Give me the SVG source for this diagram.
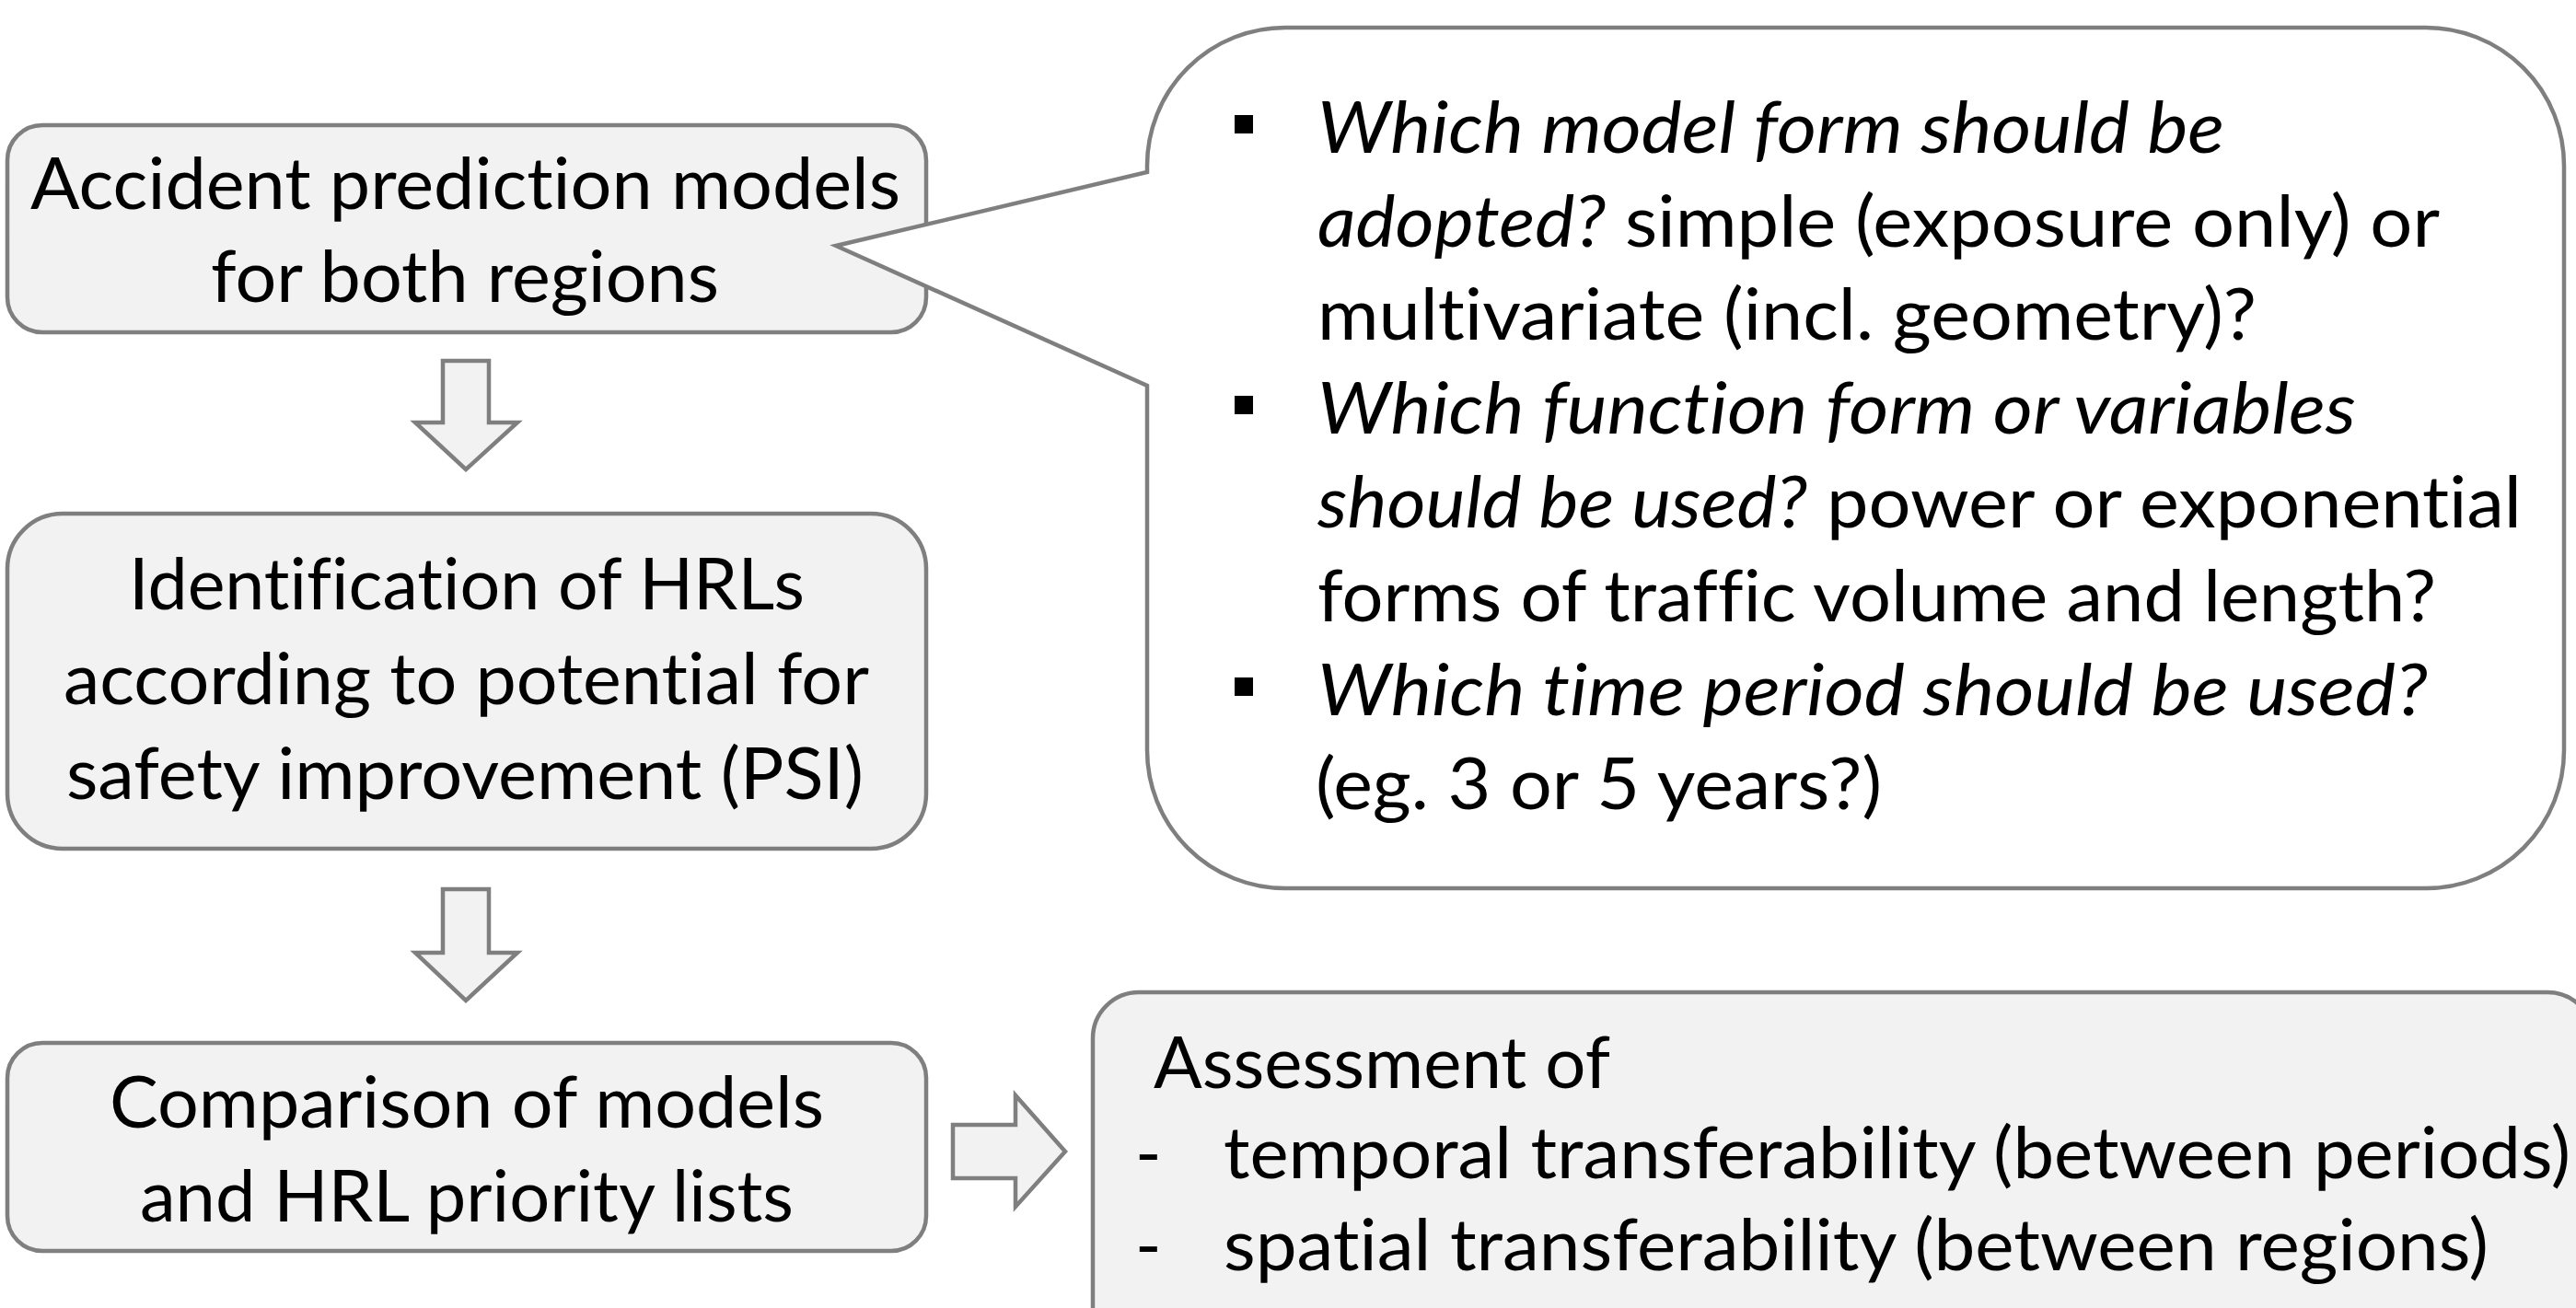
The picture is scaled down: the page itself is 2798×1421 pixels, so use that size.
<svg xmlns="http://www.w3.org/2000/svg" width="2798" height="1421" viewBox="0 0 2798 1421">
<style>
  .box { fill: #f2f2f2; stroke: #7f7f7f; stroke-width: 4.5; }
  .callout { fill: #ffffff; stroke: #7f7f7f; stroke-width: 4.5; stroke-linejoin: miter; }
  .arrow { fill: #f2f2f2; stroke: #7f7f7f; stroke-width: 4.5; stroke-linejoin: miter; }
  .t { font-family: Lato, "Liberation Sans", sans-serif; font-size: 77px; fill: #000000; font-variant-ligatures: none; font-feature-settings: "liga" 0, "clig" 0; }
  .i { font-style: italic; }
  .bullet { fill: #000000; }
</style>
<rect width="2798" height="1421" fill="#ffffff"/>

<g id="connectors">
  <path class="arrow" d="M481,392 H531 V459 H562 L506,510 L451,459 H481 Z"/>
  <path class="arrow" d="M481,966 H531 V1035 H562 L506,1087 L451,1035 H481 Z"/>
  <path class="arrow" d="M1035,1222 H1103 V1190 L1157,1251 L1103,1311 V1280 H1035 Z"/>
</g>

<g id="node-apm">
  <rect class="box" x="8" y="136" width="998" height="225" rx="38" ry="38"/>
  <text class="t" x="33" y="227" textLength="945" lengthAdjust="spacingAndGlyphs">Accident prediction models</text>
  <text class="t" x="229" y="328" textLength="552" lengthAdjust="spacingAndGlyphs">for both regions</text>
</g>

<g id="node-callout">
  <path class="callout" d="M1396,30 H2635 A150,150 0 0 1 2785,180 V815 A150,150 0 0 1 2635,965 H1396 A150,150 0 0 1 1246,815 V419 L908,267 L1246,187 V180 A150,150 0 0 1 1396,30 Z"/>
  <rect class="bullet" x="1341" y="125" width="20" height="20"/>
  <rect class="bullet" x="1341" y="430" width="20" height="20"/>
  <rect class="bullet" x="1341" y="736" width="20" height="20"/>
  <text class="t i" x="1431" y="166" textLength="985" lengthAdjust="spacingAndGlyphs">Which model form should be</text>
  <text class="t" x="1431" y="268" textLength="1219" lengthAdjust="spacingAndGlyphs"><tspan class="i">adopted?</tspan> simple (exposure only) or</text>
  <text class="t" x="1431" y="369" textLength="1020" lengthAdjust="spacingAndGlyphs">multivariate (incl. geometry)?</text>
  <text class="t i" x="1431" y="471" textLength="1128" lengthAdjust="spacingAndGlyphs">Which function form or variables</text>
  <text class="t" x="1431" y="573" textLength="1308" lengthAdjust="spacingAndGlyphs"><tspan class="i">should be used?</tspan> power or exponential</text>
  <text class="t" x="1431" y="675" textLength="1215" lengthAdjust="spacingAndGlyphs">forms of traffic volume and length?</text>
  <text class="t i" x="1431" y="777" textLength="1206" lengthAdjust="spacingAndGlyphs">Which time period should be used?</text>
  <text class="t" x="1429" y="879" textLength="615" lengthAdjust="spacingAndGlyphs">(eg. 3 or 5 years?)</text>
</g>

<g id="node-hrl">
  <rect class="box" x="8" y="558" width="998" height="364" rx="60" ry="60"/>
  <text class="t" x="140" y="662" textLength="734" lengthAdjust="spacingAndGlyphs">Identification of HRLs</text>
  <text class="t" x="69" y="765" textLength="875" lengthAdjust="spacingAndGlyphs">according to potential for</text>
  <text class="t" x="72" y="868" textLength="866" lengthAdjust="spacingAndGlyphs">safety improvement (PSI)</text>
</g>

<g id="node-compare">
  <rect class="box" x="8" y="1133" width="998" height="226" rx="38" ry="38"/>
  <text class="t" x="119" y="1225" textLength="776" lengthAdjust="spacingAndGlyphs">Comparison of models</text>
  <text class="t" x="152" y="1327" textLength="710" lengthAdjust="spacingAndGlyphs">and HRL priority lists</text>
</g>

<g id="node-assessment">
  <rect class="box" x="1187" y="1078" width="1630" height="420" rx="50" ry="50"/>
  <text class="t" x="1253" y="1182" textLength="496" lengthAdjust="spacingAndGlyphs">Assessment of</text>
  <text class="t" x="1233" y="1280">-</text>
  <text class="t" x="1329" y="1280" textLength="1463" lengthAdjust="spacingAndGlyphs">temporal transferability (between periods)</text>
  <text class="t" x="1233" y="1380">-</text>
  <text class="t" x="1329" y="1380" textLength="1374" lengthAdjust="spacingAndGlyphs">spatial transferability (between regions)</text>
</g>
</svg>
